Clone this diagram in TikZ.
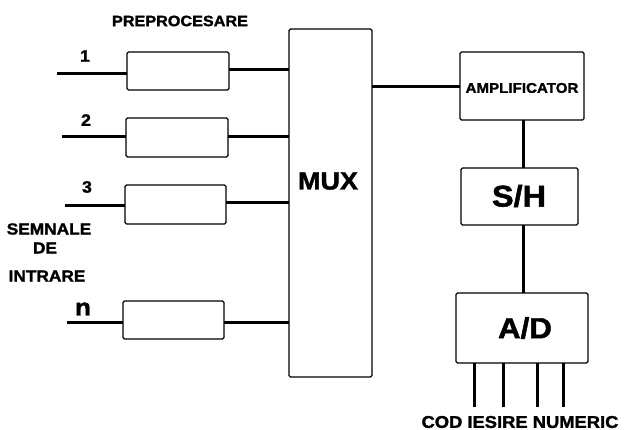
\documentclass[tikz,border=0pt]{standalone}
\usepackage{fontspec}
\setmainfont{Liberation Sans}[FakeStretch=1.08, BoldFeatures={FakeBold=1.6}]
\begin{document}
\begin{tikzpicture}[x=1pt,y=-1pt,
  box/.style={draw, line width=1.3pt, rounded corners=1.5pt, inner sep=0pt, outer sep=0pt},
  wire/.style={line width=3pt},
  lbl/.style={font=\bfseries\fontsize{#1}{#1}\selectfont, inner sep=0pt, align=center}]
\useasboundingbox (0,0) rectangle (624,430);
% preprocessing boxes
\node[box, minimum width=102pt, minimum height=38pt] (b1) at (178,71) {};
\node[box, minimum width=102pt, minimum height=39pt] (b2) at (177,137.5) {};
\node[box, minimum width=101pt, minimum height=39pt] (b3) at (175.5,204.5) {};
\node[box, minimum width=101pt, minimum height=38pt] (bn) at (173.5,320) {};
% mux and chain
\node[box, minimum width=83pt, minimum height=348pt] (mux) at (330.5,203) {};
\node[lbl=25pt] (muxt) at (328,181) {MUX};
\node[box, minimum width=124pt, minimum height=68pt] (amp) at (522,86) {};
\node[lbl=14pt] (ampt) at (522,88) {AMPLIFICATOR};
\node[box, minimum width=117pt, minimum height=57pt] (sh) at (519.5,196.5) {};
\node[lbl=30pt] (sht) at (519,196) {S/H};
\node[box, minimum width=132pt, minimum height=70pt] (ad) at (522,328) {};
\node[lbl=29pt] (adt) at (525,328) {A/D};
% labels
\node[lbl=15pt] (pre) at (180,21) {PREPROCESARE};
\node[lbl=16.5pt] (l1) at (85,56) {1};
\node[lbl=16.5pt] (l2) at (86,120) {2};
\node[lbl=16.5pt] (l3) at (87,187) {3};
\node[lbl=24pt] (ln) at (83,309) {n};
\node[lbl=16pt] (s1) at (49,229) {SEMNALE};
\node[lbl=16pt] (s2) at (45,248) {DE};
\node[lbl=16pt] (s3) at (47,276) {INTRARE};
\node[lbl=17pt] (cod) at (520,422) {COD IESIRE NUMERIC};
% input coordinates
\coordinate (i1) at (57,74);
\coordinate (i2) at (62,137);
\coordinate (i3) at (65,206);
\coordinate (in) at (67,323);
\draw[wire] (i1) -- (i1 -| b1.west);
\draw[wire] (i2) -- (i2 -| b2.west);
\draw[wire] (i3) -- (i3 -| b3.west);
\draw[wire] (in) -- (in -| bn.west);
% outputs to mux
\draw[wire] (b1.east |- 0,70) -- (mux.west |- 0,70);
\draw[wire] (b2.east |- 0,137) -- (mux.west |- 0,137);
\draw[wire] (b3.east |- 0,203) -- (mux.west |- 0,203);
\draw[wire] (bn.east |- 0,323) -- (mux.west |- 0,323);
% chain
\draw[wire] (mux.east |- 0,87) -- (amp.west |- 0,87);
\draw[wire] (amp.south -| 523,0) -- (sh.north -| 523,0);
\draw[wire] (sh.south -| 523,0) -- (ad.north -| 523,0);
% digital outputs
\coordinate (c1) at (474,407);
\coordinate (c2) at (503,407);
\coordinate (c3) at (537,407);
\coordinate (c4) at (563,407);
\foreach \c in {c1,c2,c3,c4} \draw[wire] (ad.south -| \c) -- (\c);
\end{tikzpicture}
\end{document}
